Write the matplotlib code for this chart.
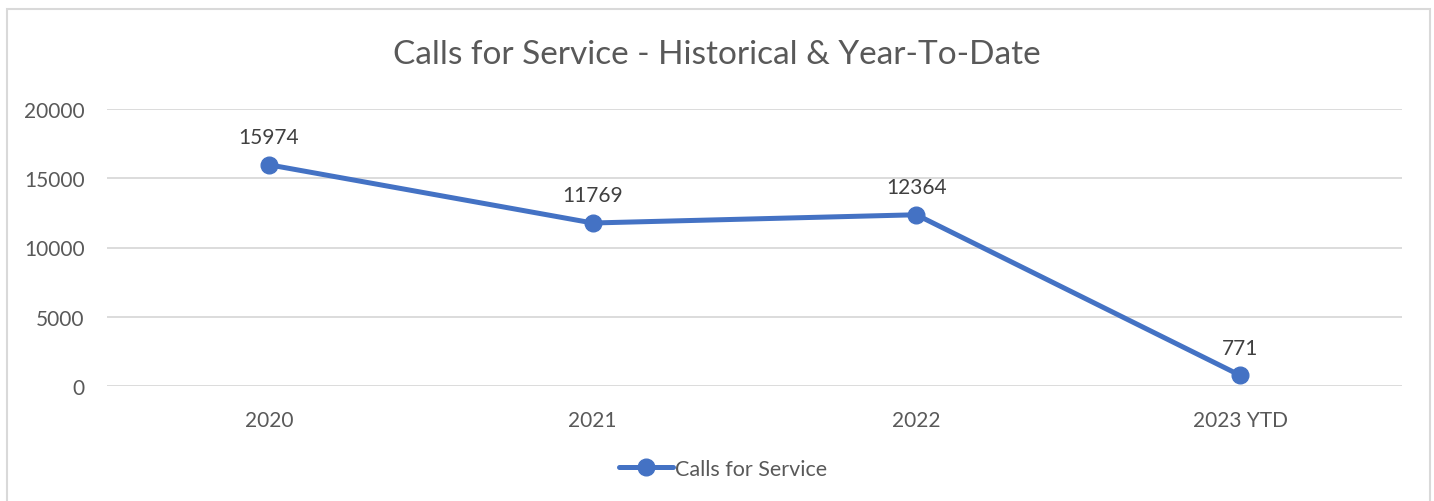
import matplotlib
matplotlib.use("Agg")
import matplotlib.pyplot as plt
from matplotlib.patches import Rectangle

# chart data
years = ["2020", "2021", "2022", "2023 YTD"]
calls = [15974, 11769, 12364, 771]
y_ticks = [0, 5000, 10000, 15000, 20000]

blue = "#4472C4"
grey_text = "#595959"
grid_col = "#D9D9D9"

plt.rcParams["font.family"] = ["Lato", "DejaVu Sans"]

fig = plt.figure(figsize=(14.34, 5.02), dpi=100)
ax = fig.add_axes([107 / 1434, 1 - 387 / 502, (1402 - 107) / 1434, (387 - 110) / 502])

# outer chart border like the spreadsheet chart frame
fig.patches.append(Rectangle((7 / 1434, -0.1), (1430 - 7) / 1434, 1.1 - 10 / 502,
                             transform=fig.transFigure, fill=False,
                             edgecolor=grid_col, linewidth=1.5))

x = range(len(years))
ax.plot(x, calls, color=blue, linewidth=3.6, marker="o", markersize=12,
        solid_capstyle="round", label="Calls for Service", zorder=3)

for xi, v in zip(x, calls):
    ax.annotate(str(v), (xi, v), xytext=(0, 20), textcoords="offset points",
                ha="center", va="center", fontsize=15, color="#404040")

ax.set_xlim(-0.5, len(years) - 0.5)
ax.set_ylim(0, 20000)
ax.set_yticks(y_ticks)
ax.set_xticks(list(x))
ax.set_xticklabels(years)
ax.grid(axis="y", color=grid_col, linewidth=1.3)
ax.set_axisbelow(True)
for s in ax.spines.values():
    s.set_visible(False)
ax.tick_params(length=0, labelsize=15, colors=grey_text, pad=16)
ax.tick_params(axis="x", pad=17)

fig.text(0.5, 1 - 55 / 502, "Calls for Service - Historical & Year-To-Date",
         ha="center", va="center", fontsize=24, color=grey_text)

ax.legend(loc="center", bbox_to_anchor=(0.476, (387 - 470) / 277), frameon=False,
          fontsize=15.5, labelcolor=grey_text, handlelength=2.5, handletextpad=0.1)

fig.savefig("out.png", dpi=100)
